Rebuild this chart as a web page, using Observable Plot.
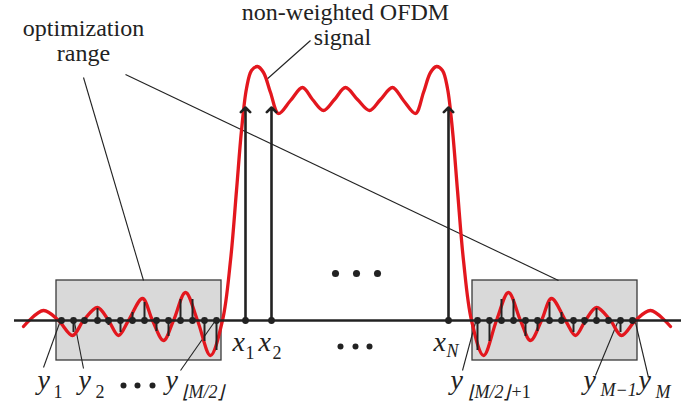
<!DOCTYPE html>
<html>
<head>
<meta charset="utf-8">
<script src="https://cdn.jsdelivr.net/npm/d3@7"></script>
<script src="https://cdn.jsdelivr.net/npm/@observablehq/plot@0.6"></script>
<style>
  html, body { margin: 0; padding: 0; background: #fff; }
  #chart svg { display: block; }
</style>
</head>
<body>
<div id="chart"></div>
<script>
// Red OFDM signal (sample position, amplitude; amplitude 0 = axis)
const curveX = [23,43,58,72,83,97,108,118,128,142,152,163,173,185,197,210,222,230,236,241,246,251,257,263,270,278,290,302,312,323,334,345,357,369,380,392,403,415,423,430,436,442,447,452,457,463,471,483,496,508,520,530,541,551,565,575,585,596,610,621,635,650,670];
const curveY = [-6,10,0,-15,0,13,0,-15,0,22,0,-20,0,28,0,-35,0,60,130,190,232,250,254,248,228,207,220,233,221,210,221,233,221,210,221,233,220,207,228,248,254,250,232,190,130,60,0,-35,0,28,0,-20,0,22,0,-15,0,13,0,-15,0,10,-6];

// Optimization-range samples y_1 .. y_M
const leftSampleX = [61,73,84,97,108,120,132,144,156,168,180,192,204,216];
const leftSampleY = [0,-12,0,12,-5,-12,8,18,-11,-16,21,21,-21,-30];
const rightSampleX = [477,489,501,513,525,537,549,561,573,584,596,608,620,632];
const rightSampleY = [-30,-21,21,21,-16,-11,18,8,-12,-5,12,0,-12,0];

// Subcarrier symbols x_1, x_2, ..., x_N
const arrowX = [245, 271, 448];
const arrowTop = 213;

// Optimization range boxes
const boxX1 = [56, 472];
const boxX2 = [221, 637];
const boxY1 = -40;
const boxY2 = 40;

// Axis extent
const axisX1 = 14, axisX2 = 681;

// Ellipses
const dotsTopX = [335, 356, 377], dotsTopY = 47;
const dotsMidX = [340, 355, 369], dotsMidY = -26;
const dotsLeftX = [123, 137, 152], dotsLeftY = -65;

// Annotation text
const titleText = ["optimization", "range", "non-weighted OFDM", "signal"];
const titleX = [83, 83, 345, 342];
const titleY = [285, 260, 301, 276];

const mainText = ["x","x","x","y","y","y","y","y","y"];
const mainX = [232,258,433,37,78,165,450,583,638];
const mainY = [-30,-30,-30,-68,-68,-68,-68,-68,-68];

const subText = ["1","2","N","1","2","\u230AM/2\u230B","\u230AM/2\u230B","+1","M\u22121","M"];
const subItalic = [false,false,true,false,false,true,true,false,true,true];
const subX = [245,272,446,53,95,181,467,511,600,655];
const subY = [-38,-38,-36,-77,-77,-77,-77,-77,-75,-77];

// Leader lines
const leadX1 = [83,125,310,43,83,180,462,595,648];
const leadY1 = [243,246,280,-47,-48,-50,-50,-55,-57];
const leadX2 = [143,558,265,60,74,215,476,617,635];
const leadY2 = [40,40,240,0,-2,0,2,-2,-2];

const serif = "'Liberation Serif', 'Times New Roman', serif";
const ink = "#222";
const red = "#e3171e";

const curve = curveX.map((x, i) => ({x, y: curveY[i]}));
const samples = leftSampleX.map((x, i) => ({x, y: leftSampleY[i]}))
  .concat(rightSampleX.map((x, i) => ({x, y: rightSampleY[i]})));
const boxes = boxX1.map((x1, i) => ({x1, x2: boxX2[i], y1: boxY1, y2: boxY2}));
const arrows = arrowX.map(x => ({x, y1: 0, y2: arrowTop}));
const ellipses = dotsTopX.map(x => ({x, y: dotsTopY, r: 3.6}))
  .concat(dotsMidX.map(x => ({x, y: dotsMidY, r: 2.6})))
  .concat(dotsLeftX.map(x => ({x, y: dotsLeftY, r: 2.6})));
const titles = titleText.map((t, i) => ({t, x: titleX[i], y: titleY[i]}));
const mains = mainText.map((t, i) => ({t, x: mainX[i], y: mainY[i]}));
const subs = subText.map((t, i) => ({t, x: subX[i], y: subY[i], it: subItalic[i]}));
const leads = leadX1.map((x1, i) => ({x1, y1: leadY1[i], x2: leadX2[i], y2: leadY2[i]}));

const plot = Plot.plot({
  width: 699,
  height: 406,
  margin: 0,
  x: {domain: [0, 699], range: [0, 699], axis: null},
  y: {domain: [-86, 320], range: [406, 0], axis: null},
  style: {background: "#fff", overflow: "visible"},
  marks: [
    Plot.rect(boxes, {x1: "x1", x2: "x2", y1: "y1", y2: "y2", fill: "#d9d9d9", stroke: "#3a3a3a", strokeWidth: 1.3}),
    Plot.link(leads, {x1: "x1", y1: "y1", x2: "x2", y2: "y2", stroke: ink, strokeWidth: 1.1}),
    Plot.line(curve, {x: "x", y: "y", curve: "catmull-rom", stroke: red, strokeWidth: 3.3}),
    Plot.ruleY([0], {x1: axisX1, x2: axisX2, stroke: ink, strokeWidth: 2.6}),
    Plot.ruleX(samples, {x: "x", y1: 0, y2: "y", stroke: ink, strokeWidth: 2}),
    Plot.dot(samples, {x: "x", y: 0, r: 3.4, fill: ink}),
    Plot.arrow(arrows, {x1: "x", x2: "x", y1: "y1", y2: "y2", stroke: ink, strokeWidth: 2.6, headLength: 3.8, headAngle: 90}),
    Plot.dot(arrows, {x: "x", y: 0, r: 3.4, fill: ink}),
    Plot.dot(ellipses, {x: "x", y: "y", r: "r", fill: ink}),
    Plot.text(titles, {x: "x", y: "y", text: "t", fontSize: 24, fontFamily: serif, textAnchor: "middle", lineAnchor: "bottom", fill: ink}),
    Plot.text(mains, {x: "x", y: "y", text: "t", fontSize: 28, fontFamily: serif, fontStyle: "italic", textAnchor: "start", lineAnchor: "bottom", fill: ink}),
    Plot.text(subs.filter(d => d.it), {x: "x", y: "y", text: "t", fontSize: 18, fontFamily: serif, fontStyle: "italic", textAnchor: "start", lineAnchor: "bottom", fill: ink}),
    Plot.text(subs.filter(d => !d.it), {x: "x", y: "y", text: "t", fontSize: 18, fontFamily: serif, textAnchor: "start", lineAnchor: "bottom", fill: ink})
  ]
});
document.getElementById("chart").appendChild(plot);
</script>
</body>
</html>
